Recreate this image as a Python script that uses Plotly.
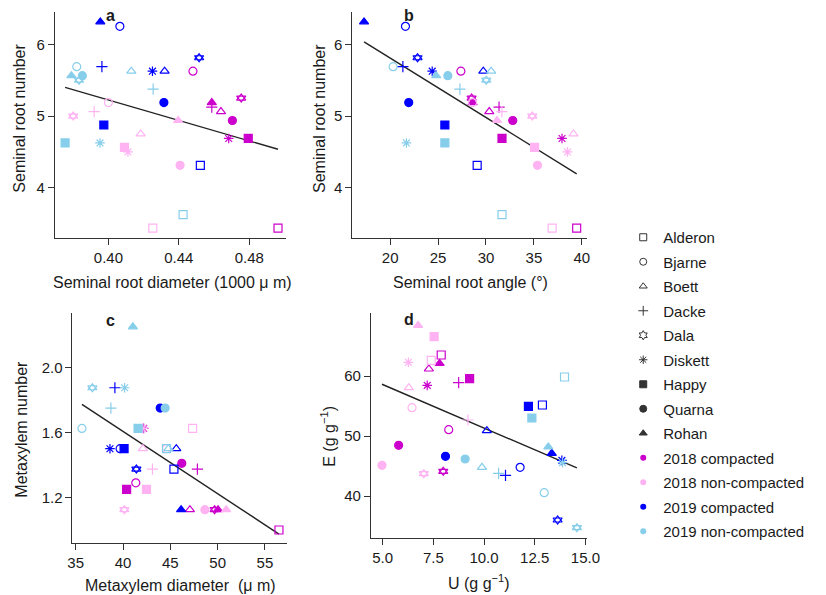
import numpy as np
import plotly.graph_objects as go

W, H = 826, 595

cultivars = ["Alderon", "Bjarne", "Boett", "Dacke", "Dala", "Diskett", "Happy", "Quarna", "Rohan"]
symbols = ["square-open", "circle-open", "triangle-up-open", "cross-thin-open", "triangle-up-open",
           "asterisk-open", "square", "circle", "triangle-up"]
legend_symbols = ["square-open", "circle-open", "triangle-up-open", "cross-thin-open", "hexagram-open",
                  "asterisk-open", "square", "circle", "triangle-up"]
DALA = 4
treatments = ["2018 compacted", "2018 non-compacted", "2019 compacted", "2019 non-compacted"]
colors = ["#CC00CC", "#FFB3F2", "#0000FF", "#87CEEB"]

# Seminal root number (cultivar order above)
number_18c = [3.4375, 5.625, 5.0625, 5.125, 5.25, 4.6875, 4.6875, 4.9375, 5.1875]
number_18n = [3.4375, 5.1875, 4.75, 5.0625, 5.0, 4.5, 4.5625, 4.3125, 4.9375]
number_19c = [4.3125, 6.25, 5.625, 5.6875, 5.8125, 5.625, 4.875, 5.1875, 6.3125]
number_19n = [3.625, 5.6875, 5.625, 5.375, 5.5, 4.625, 4.625, 5.5625, 5.5625]

# Seminal root diameter (1000 um)
diam_18c = [0.4963, 0.448, 0.4639, 0.4587, 0.4754, 0.4683, 0.4794, 0.4704, 0.4587]
diam_18n = [0.4252, 0.400, 0.4183, 0.3919, 0.380, 0.4111, 0.4091, 0.4407, 0.4396]
diam_19c = [0.4522, 0.4065, 0.4319, 0.3963, 0.4515, 0.425, 0.3974, 0.4315, 0.3954]
diam_19n = [0.4424, 0.382, 0.413, 0.4254, 0.3833, 0.3952, 0.3754, 0.3852, 0.379]

# Seminal root angle (deg)
angle_18c = [39.46, 27.38, 30.34, 31.36, 28.5, 37.93, 31.67, 32.79, 28.6]
angle_18n = [36.9, 28.6, 39.12, 31.66, 34.83, 38.5, 35.07, 35.37, 31.15]
angle_19c = [29.08, 21.6, 29.72, 21.33, 22.86, 24.39, 25.71, 21.94, 17.28]
angle_19n = [31.67, 20.31, 30.54, 27.28, 30.03, 21.7, 25.71, 26.02, 24.8]

# Metaxylem diameter (um)
mxd_18c = [56.48, 41.35, 47.07, 47.86, 49.68, 42.18, 40.38, 46.21, 50.04]
mxd_18n = [47.35, 44.6, 42.1, 43.11, 40.14, 42.1, 42.48, 48.65, 50.9]
mxd_19c = [45.38, 39.69, 45.63, 39.14, 41.41, 38.62, 40.11, 43.93, 46.14]
mxd_19n = [44.59, 35.66, 44.8, 38.72, 36.76, 40.17, 41.59, 44.45, 41.04]

# Metaxylem number
mxn_18c = [1.0, 1.29, 1.125, 1.375, 1.125, 1.625, 1.25, 1.41, 1.125]
mxn_18n = [1.625, 1.5, 1.5, 1.375, 1.125, 1.625, 1.25, 1.125, 1.125]
mxn_19c = [1.375, 1.5, 1.5, 1.875, 1.375, 1.5, 1.5, 1.75, 1.125]
mxn_19n = [1.5, 1.625, 1.5, 1.75, 1.875, 1.875, 1.625, 1.75, 2.25]

# U (g g-1)
u_18c = [7.89, 8.26, 7.28, 8.75, 7.99, 7.2, 9.29, 5.79, 7.81]
u_18n = [7.4, 6.45, 6.29, 9.21, 7.03, 6.27, 7.54, 4.97, 6.75]
u_19c = [12.88, 11.78, 10.14, 11.06, 13.63, 13.84, 12.19, 8.1, 13.34]
u_19n = [13.97, 12.97, 9.9, 10.72, 14.58, 13.87, 12.36, 9.07, 13.17]

# E (g g-1)
e_18c = [63.5, 51.06, 61.17, 58.89, 44.11, 58.44, 59.56, 48.44, 62.1]
e_18n = [62.6, 54.72, 58.06, 52.67, 43.72, 62.28, 66.56, 45.11, 68.44]
e_19c = [55.17, 44.78, 50.89, 43.44, 36.0, 45.94, 54.94, 46.61, 47.11]
e_19n = [59.83, 40.56, 44.78, 43.78, 34.72, 45.56, 53.0, 46.17, 48.17]

panels = [
    ("x", "y", [diam_18c, diam_18n, diam_19c, diam_19n], [number_18c, number_18n, number_19c, number_19n]),
    ("x2", "y2", [angle_18c, angle_18n, angle_19c, angle_19n], [number_18c, number_18n, number_19c, number_19n]),
    ("x3", "y3", [mxd_18c, mxd_18n, mxd_19c, mxd_19n], [mxn_18c, mxn_18n, mxn_19c, mxn_19n]),
    ("x4", "y4", [u_18c, u_18n, u_19c, u_19n], [e_18c, e_18n, e_19c, e_19n]),
]

fig = go.Figure()

for xa, ya, xs, ys in panels:
    allx = np.concatenate([np.array(v) for v in xs])
    ally = np.concatenate([np.array(v) for v in ys])
    slope, icpt = np.polyfit(allx, ally, 1)
    lx = np.array([allx.min(), allx.max()])
    fig.add_trace(go.Scatter(x=lx, y=slope * lx + icpt, mode="lines", xaxis=xa, yaxis=ya,
                             line=dict(color="#222222", width=1.4), showlegend=False,
                             hoverinfo="skip"))
    for t in range(4):
        fig.add_trace(go.Scatter(
            x=xs[t], y=ys[t], mode="markers", xaxis=xa, yaxis=ya, showlegend=False,
            text=cultivars, name=treatments[t],
            marker=dict(symbol=symbols, color=colors[t], size=8,
                        line=dict(color=colors[t], width=1.2)),
        ))
        # second (downward) triangle of the Dala symbol
        fig.add_trace(go.Scatter(
            x=[xs[t][DALA]], y=[ys[t][DALA]], mode="markers", xaxis=xa, yaxis=ya,
            showlegend=False, text=[cultivars[DALA]], name=treatments[t],
            marker=dict(symbol="triangle-down-open", color=colors[t], size=8,
                        line=dict(color=colors[t], width=1.2)),
        ))

# legend entries
for i, c in enumerate(cultivars):
    fig.add_trace(go.Scatter(x=[None], y=[None], mode="markers", name=c, legendgroup="g%d" % i,
                             marker=dict(symbol=legend_symbols[i], color="#333333", size=7,
                                         line=dict(color="#333333", width=1))))
for t in range(4):
    fig.add_trace(go.Scatter(x=[None], y=[None], mode="markers", name=treatments[t],
                             legendgroup="t%d" % t,
                             marker=dict(symbol="circle", color=colors[t], size=6,
                                         line=dict(width=0))))


def px(x):
    return x / W


def py(y):
    return 1 - y / H


axis_common = dict(showline=True, linecolor="#333333", linewidth=1, ticks="outside", ticklen=6,
                   tickwidth=1, tickcolor="#333333", showgrid=False, zeroline=False,
                   tickfont=dict(size=15, color="#1a1a1a"), mirror=False)

fig.update_layout(
    width=W, height=H, margin=dict(l=0, r=0, t=0, b=0),
    plot_bgcolor="white", paper_bgcolor="white",
    font=dict(family="Liberation Sans, Arial, sans-serif", color="#1a1a1a"),
    xaxis=dict(domain=[px(51), px(287)], range=[0.3696, 0.5007], tickvals=[0.40, 0.44, 0.48],
               tickformat=".2f", anchor="y", **axis_common),
    yaxis=dict(domain=[py(238), py(12)], range=[3.30, 6.45], tickvals=[4, 5, 6], anchor="x",
               **axis_common),
    xaxis2=dict(domain=[px(355), px(595)], range=[16.05, 40.54], tickvals=[20, 25, 30, 35, 40],
                anchor="y2", **axis_common),
    yaxis2=dict(domain=[py(238), py(12)], range=[3.30, 6.45], tickvals=[4, 5, 6], anchor="x2",
                **axis_common),
    xaxis3=dict(domain=[px(69), px(288)], range=[34.66, 57.3], tickvals=[35, 40, 45, 50, 55],
                anchor="y3", **axis_common),
    yaxis3=dict(domain=[py(543), py(313)], range=[0.92, 2.335], tickvals=[1.2, 1.6, 2.0],
                tickformat=".1f", anchor="x3", **axis_common),
    xaxis4=dict(domain=[px(374), px(595)], range=[4.42, 15.08],
                tickvals=[5, 7.5, 10, 12.5, 15], tickformat=".1f", anchor="y4", **axis_common),
    yaxis4=dict(domain=[py(538), py(313)], range=[33.0, 70.5], tickvals=[40, 50, 60],
                anchor="x4", **axis_common),
    legend=dict(x=px(632), y=py(221), xanchor="left", yanchor="top",
                font=dict(size=15, color="#1a1a1a"), tracegroupgap=2,
                bgcolor="rgba(0,0,0,0)", itemclick=False, itemdoubleclick=False),
)

annots = [
    ("<b>a</b>", 108, 15, 0), ("<b>b</b>", 413, 15, 0), ("<b>c</b>", 108, 320, 0), ("<b>d</b>", 413, 319, 0),
    ("Seminal root diameter (1000 \u03bc m)", 171, 282, 0),
    ("Seminal root number", 15, 118, -90),
    ("Seminal root angle (\u00b0)", 476, 282, 0),
    ("Seminal root number", 322, 118, -90),
    ("Metaxylem diameter  (\u03bc m)", 179, 585, 0),
    ("Metaxylem number", 16, 429, -90),
    ("U (g g<sup>\u22121</sup>)", 485, 582, 0),
    ("E (g g<sup>\u22121</sup>)", 330, 436, -90),
]
for txt, x, y, rot in annots:
    fig.add_annotation(text=txt, x=px(x), y=py(y), xref="paper", yref="paper", showarrow=False,
                       xanchor="center", yanchor="middle", textangle=rot,
                       font=dict(size=16, color="#1a1a1a"))

fig.write_html(
    "out.html",
    config={"displayModeBar": False},
    post_script="document.body.style.margin='0px';document.body.style.overflow='hidden';",
)
